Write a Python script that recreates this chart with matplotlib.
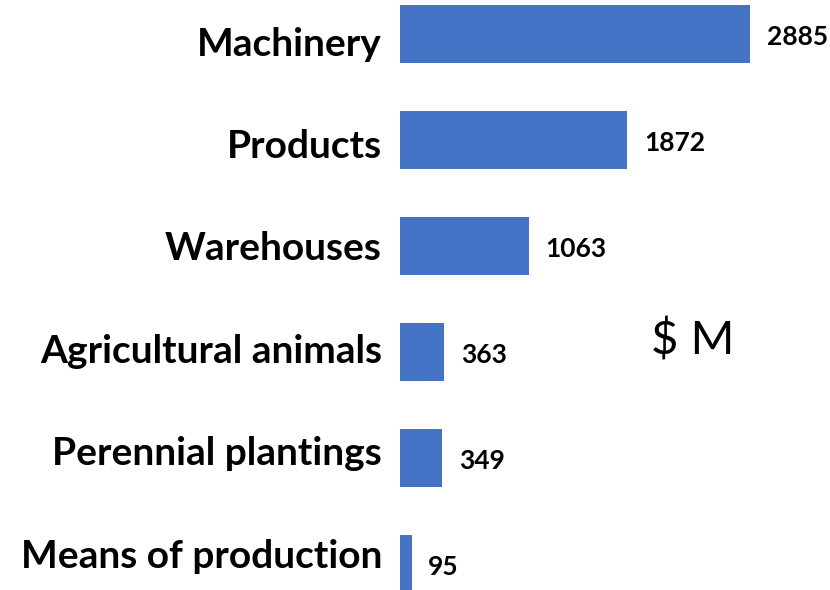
import matplotlib
matplotlib.use("Agg")
import matplotlib.pyplot as plt

categories = ["Machinery", "Products", "Warehouses", "Agricultural animals",
              "Perennial plantings", "Means of production"]
values = [2885, 1872, 1063, 363, 349, 95]
unit_label = "$ M"

plt.rcParams['font.family'] = ['Lato', 'DejaVu Sans']

fig = plt.figure(figsize=(8.3, 5.9), dpi=100)
W, H = 830, 590
ax = fig.add_axes([400 / W, 0, 1 - 400 / W, 1])

pos = list(range(len(categories)))
ax.barh(pos, values, height=0.55, color="#4472C4")

ax.set_ylim((590 - 34) / 106, -34 / 106)
ax.set_xlim(0, 430 / (350 / 2885))

for s in ax.spines.values():
    s.set_visible(False)
ax.set_xticks([])
ax.set_yticks([])

# category labels (slightly tighter spacing than the bars, as in the reference)
for i, c in enumerate(categories):
    fig.text(382 / W, 1 - (44 + 102.4 * i) / H, c, ha="right", va="center",
             fontsize=28, fontweight="bold", color="black")

for p, v in zip(pos, values):
    ax.annotate(str(v), xy=(v, p), xytext=(12, -2), textcoords="offset points",
                ha="left", va="center", fontsize=19, fontweight="bold", color="black")

fig.text(693 / W, 1 - 340 / H, unit_label, ha="center", va="center", fontsize=34, color="black")

fig.savefig("out.png", dpi=100)
